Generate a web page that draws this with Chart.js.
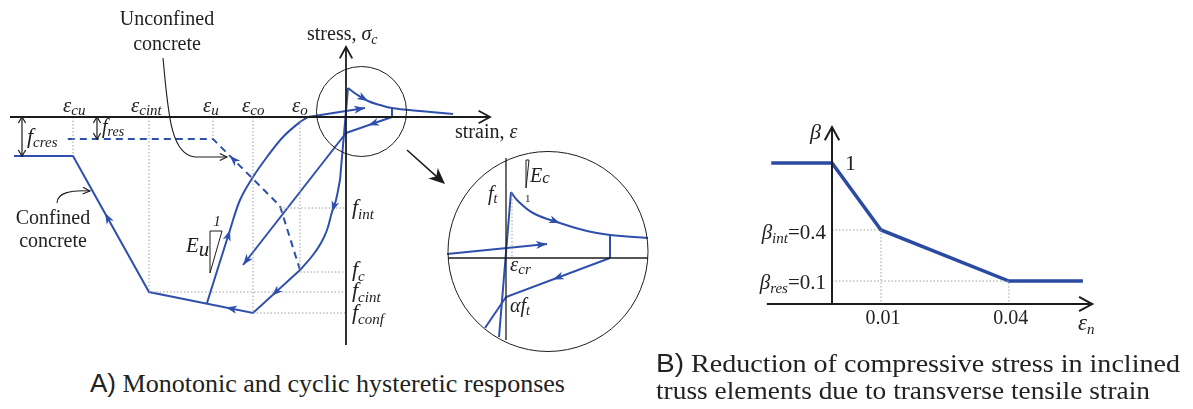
<!DOCTYPE html>
<html><head><meta charset="utf-8">
<script src="https://cdn.jsdelivr.net/npm/chart.js@4.4.1/dist/chart.umd.min.js"></script>
<style>
html,body{margin:0;padding:0;background:#fff;width:1193px;height:409px;overflow:hidden;position:relative;}
canvas{position:absolute;}
.cap{position:absolute;font-family:"Liberation Serif","Times New Roman",serif;color:#222;white-space:nowrap;font-size:26px;line-height:1;transform-origin:0 0;}
.cap .s{font-family:"Liberation Sans",Arial,sans-serif;}
</style></head><body>
<canvas id="cA" width="540" height="360" style="left:0px;top:0px"></canvas>
<canvas id="cI" width="220" height="215" style="left:440px;top:145px"></canvas>
<canvas id="cB" width="400" height="240" style="left:740px;top:110px"></canvas>
<div class="cap" data-w="475" style="left:90px;top:370px"><span class="s">A)</span> Monotonic and cyclic hysteretic responses</div>
<div class="cap" data-w="524" style="left:656px;top:350px"><span class="s">B)</span> Reduction of compressive stress in inclined</div>
<div class="cap" data-w="494" style="left:656px;top:378px">truss elements due to transverse tensile strain</div>
<script>
// ===================== DATA (diagram units) =====================
// Panel A: strain (x) / stress (y), compression negative
const strainTickNames  = ['cu', 'cint', 'u', 'co', 'o'];
const strainTickValues = [-27.3, -19.7, -13.3, -9.3, -4.6];
const strainTickDepth  = [-3.9, -17.5, -2.2, -19.6, -15.3];
const stressTickNames  = ['int', 'c', 'cint', 'conf'];
const stressTickValues = [-9.1, -15.5, -17.5, -19.6];
const stressTickStart  = [-6.6, -4.6, -19.7, -9.3];

const confinedX   = [-4.6, -9.3, -19.7, -27.3, -33.2];
const confinedY   = [-15.3, -19.6, -17.5, -3.9, -3.9];
const unconfinedX = [-4.6, -6.6, -13.3, -28.1];
const unconfinedY = [-15.3, -8.9, -2.2, -2.2];
const elasticX    = [0.2, -0.6];
const elasticY    = [2.9, -6.3];
const compCurveX  = [-0.6, -1.0, -1.4, -1.9, -2.5, -3.3, -4.6];
const compCurveY  = [-6.3, -8.3, -9.5, -11.3, -12.6, -13.8, -15.3];
const reloadX     = [-13.9, -11.6, -10.6, -9.3, -7.9, -6.3, -4.6, -3.8];
const reloadY     = [-18.6, -11.3, -8.3, -6.0, -4.0, -2.0, -0.5, 0];
const reloadTensX = [-3.8, 1.9];
const reloadTensY = [0, 0.9];
const tensSoftX   = [0.2, 1.0, 2.2, 3.4, 4.6, 7.4, 10.7];
const tensSoftY   = [2.9, 2.3, 1.6, 1.2, 0.9, 0.6, 0.3];
const crackX      = [4.6, 4.6];
const crackY      = [0.9, 0];
const unloadX     = [4.6, 0];
const unloadY     = [0, -1.6];
const diagX       = [0, -10.3];
const diagY       = [-1.6, -14.8];
const fcresValue  = -3.9;
const fresValue   = -2.2;

// Inset (zoom of tension region)
const inElasticX = [-0.7, 0.5];
const inElasticY = [-7.9, 6.6];
const inSoftX    = [0.5, 1.1, 2.7, 5.4, 8.1, 10.4, 14.2];
const inSoftY    = [6.6, 5.8, 4.5, 3.5, 2.7, 2.3, 2.0];
const inCrackX   = [10.4, 10.4];
const inCrackY   = [2.3, 0];
const inUnloadX  = [10.4, 0, -2.1];
const inUnloadY  = [0, -3.9, -7.0];
const inReloadX  = [-5.9, 4.1];
const inReloadY  = [0.4, 1.4];

// Panel B: beta vs eps_n (schematic positions as drawn: 0.01 drawn at 1, 0.04 at 3.61)
const betaX = [-1.24, 0, 1, 3.61, 5.12];
const betaY = [1, 1, 0.525, 0.163, 0.163];
const betaStrainTicks = ['0.01', '0.04'];
const betaLevelNames  = ['int', 'res'];
const betaLevelValues = ['0.4', '0.1'];

// ===================== RENDERING =====================
const SERIF = '"Liberation Serif","Times New Roman",serif';
const R = s => `${s}px ${SERIF}`;
const I = s => `italic ${s}px ${SERIF}`;
const BLUE = '#2f4fad', BLUE_B = '#2b4ba3', INK = '#1c1c1c', DOT = '#a0a0a0';

function pts(xs, ys) { return xs.map((x, i) => ({x, y: ys[i]})); }
function line(xs, ys, o = {}) {
  return Object.assign({data: pts(xs, ys), showLine: true, borderColor: BLUE, borderWidth: 2,
    pointRadius: 0, fill: false, tension: 0, borderCapStyle: 'butt', borderJoinStyle: 'miter'}, o);
}
function dotted(xs, ys) { return line(xs, ys, {borderColor: DOT, borderWidth: 1, borderDash: [1.5, 2]}); }

function fillHead(ctx, x, y, ang, len, half, color) {
  const c = Math.cos(ang), s = Math.sin(ang);
  const bx = x - len * c, by = y - len * s;
  ctx.beginPath();
  ctx.moveTo(x, y);
  ctx.lineTo(bx - half * s, by + half * c);
  ctx.lineTo(x - len * 0.72 * c, y - len * 0.72 * s);
  ctx.lineTo(bx + half * s, by - half * c);
  ctx.closePath();
  ctx.fillStyle = color; ctx.fill();
}
function openHead(ctx, x, y, ang, len, spread, color, w) {
  ctx.beginPath();
  ctx.moveTo(x - len * Math.cos(ang - spread), y - len * Math.sin(ang - spread));
  ctx.lineTo(x, y);
  ctx.lineTo(x - len * Math.cos(ang + spread), y - len * Math.sin(ang + spread));
  ctx.strokeStyle = color; ctx.lineWidth = w; ctx.stroke();
}
function drawRich(ctx, x, y, segs, align, color) {
  let w = 0;
  segs.forEach(s => { ctx.font = s[1]; w += ctx.measureText(s[0]).width; });
  let cx = align === 'center' ? x - w / 2 : align === 'right' ? x - w : x;
  ctx.fillStyle = color || '#222'; ctx.textBaseline = 'alphabetic'; ctx.textAlign = 'left';
  segs.forEach(s => { ctx.font = s[1]; ctx.fillText(s[0], cx, y + (s[2] || 0)); cx += ctx.measureText(s[0]).width; });
}

const diagramPlugin = {
  id: 'diagram',
  afterDatasetsDraw(chart) {
    const o = chart.options.plugins.diagram || {};
    const ctx = chart.ctx, sx = chart.scales.x, sy = chart.scales.y;
    const P = p => [sx.getPixelForValue(p[0]), sy.getPixelForValue(p[1])];
    ctx.save();
    chart.data.datasets.forEach(ds => {
      (ds.arrows || []).forEach(a => {
        const A = P([ds.data[a.seg].x, ds.data[a.seg].y]);
        const B = P([ds.data[a.seg + 1].x, ds.data[a.seg + 1].y]);
        const x = A[0] + (B[0] - A[0]) * a.t, y = A[1] + (B[1] - A[1]) * a.t;
        let ang = Math.atan2(B[1] - A[1], B[0] - A[0]);
        if (a.rev) ang += Math.PI;
        fillHead(ctx, x, y, ang, a.len || 11, a.half || 4, ds.borderColor);
      });
    });
    (o.items || []).forEach(it => {
      ctx.setLineDash([]);
      if (it.type === 'text') {
        const p = P(it.at);
        drawRich(ctx, p[0], p[1], it.segs, it.align || 'left', it.color);
      } else if (it.type === 'axis') {
        const a = P(it.from), b = P(it.to);
        ctx.beginPath(); ctx.moveTo(a[0], a[1]); ctx.lineTo(b[0], b[1]);
        ctx.strokeStyle = INK; ctx.lineWidth = it.w || 1.8; ctx.stroke();
        if (it.head !== false) openHead(ctx, b[0], b[1], Math.atan2(b[1] - a[1], b[0] - a[0]), it.hl || 13, 0.5, INK, it.w || 1.8);
      } else if (it.type === 'poly') {
        ctx.beginPath();
        it.pts.forEach((q, i) => { const p = P(q); i ? ctx.lineTo(p[0], p[1]) : ctx.moveTo(p[0], p[1]); });
        if (it.closed) ctx.closePath();
        ctx.strokeStyle = it.color || INK; ctx.lineWidth = it.w || 1; ctx.stroke();
      } else if (it.type === 'circle') {
        const p = P(it.c);
        ctx.beginPath(); ctx.arc(p[0], p[1], it.r, 0, Math.PI * 2);
        ctx.strokeStyle = INK; ctx.lineWidth = it.w || 1; ctx.stroke();
      } else if (it.type === 'fat') {
        const a = P(it.from), b = P(it.to);
        const ang = Math.atan2(b[1] - a[1], b[0] - a[0]);
        ctx.beginPath(); ctx.moveTo(a[0], a[1]);
        ctx.lineTo(b[0] - 10 * Math.cos(ang), b[1] - 10 * Math.sin(ang));
        ctx.strokeStyle = INK; ctx.lineWidth = 1.6; ctx.stroke();
        fillHead(ctx, b[0], b[1], ang, 16, 7, INK);
      } else if (it.type === 'dim') {
        const a = P([it.x, it.y1]), b = P([it.x, it.y2]);
        ctx.beginPath(); ctx.moveTo(a[0], a[1]); ctx.lineTo(b[0], b[1]);
        ctx.strokeStyle = INK; ctx.lineWidth = 1.2; ctx.stroke();
        openHead(ctx, a[0], a[1], -Math.PI / 2, 7, 0.55, INK, 1.2);
        openHead(ctx, b[0], b[1], Math.PI / 2, 7, 0.55, INK, 1.2);
      } else if (it.type === 'curve') {
        const a = P(it.from), c1 = P(it.c1), c2 = P(it.c2), b = P(it.to);
        ctx.beginPath(); ctx.moveTo(a[0], a[1]);
        ctx.bezierCurveTo(c1[0], c1[1], c2[0], c2[1], b[0], b[1]);
        let ang = Math.atan2(b[1] - c2[1], b[0] - c2[0]);
        let end = b;
        if (it.then) { const t = P(it.then); ctx.lineTo(t[0], t[1]); ang = Math.atan2(t[1] - b[1], t[0] - b[0]); end = t; }
        ctx.strokeStyle = INK; ctx.lineWidth = 1.1; ctx.stroke();
        openHead(ctx, end[0], end[1], ang, 8, 0.45, INK, 1.1);
      }
    });
    ctx.restore();
  }
};

function makeChart(id, xr, yr, datasets, items) {
  return new Chart(document.getElementById(id), {
    type: 'scatter',
    data: {datasets},
    options: {
      responsive: false, animation: false, events: [],
      layout: {padding: 0},
      plugins: {legend: {display: false}, tooltip: {enabled: false}, diagram: {items}},
      scales: {
        x: {type: 'linear', min: xr[0], max: xr[1], display: false},
        y: {type: 'linear', min: yr[0], max: yr[1], display: false}
      }
    },
    plugins: [diagramPlugin]
  });
}

// ---------- Panel A ----------
const dsA = [];
strainTickValues.forEach((v, i) => dsA.push(dotted([v, v], [0, strainTickDepth[i]])));
stressTickValues.forEach((v, i) => dsA.push(dotted([stressTickStart[i], 0], [v, v])));
dsA.push(line(unconfinedX, unconfinedY, {borderDash: [7, 5], arrows: [{seg: 1, t: 0.75}]}));
dsA.push(line(confinedX, confinedY, {arrows: [{seg: 0, t: 0.6}, {seg: 1, t: 0.26}, {seg: 2, t: 0.58}]}));
dsA.push(line(elasticX, elasticY));
dsA.push(line(compCurveX, compCurveY, {tension: 0.4, arrows: [{seg: 1, t: 1}]}));
dsA.push(line(reloadX, reloadY, {tension: 0.35, arrows: [{seg: 0, t: 1}]}));
dsA.push(line(reloadTensX, reloadTensY, {arrows: [{seg: 0, t: 1}]}));
dsA.push(line(tensSoftX, tensSoftY, {tension: 0.4, arrows: [{seg: 1, t: 1}]}));
dsA.push(line(crackX, crackY));
dsA.push(line(unloadX, unloadY, {arrows: [{seg: 0, t: 0.52}]}));
dsA.push(line(diagX, diagY, {arrows: [{seg: 0, t: 1}]}));

const strainLabelLeft = [-28.3, -21.5, -14.3, -10.4, -5.4];
const stressLabelBase = [-9.7, -15.9, -18.0, -20.2];
const itemsA = [
  {type: 'axis', from: [-33.6, 0], to: [14.4, 0]},
  {type: 'axis', from: [0, -22.8], to: [0, 7.0]},
  {type: 'circle', c: [1.55, 0.55], r: 45},
  {type: 'fat', from: [6.1, -3.3], to: [9.9, -6.7]},
  {type: 'dim', x: -32.4, y1: 0, y2: fcresValue},
  {type: 'dim', x: -24.9, y1: 0, y2: fresValue},
  {type: 'poly', pts: [[-13.6, -11.4], [-12.4, -11.4], [-13.6, -15.6]], closed: true},
  {type: 'curve', from: [-18.3, 5.9], c1: [-17.8, 0.7], c2: [-17.6, -3.8], to: [-15.1, -4.0], then: [-11.9, -4.0]},
  {type: 'curve', from: [-28.9, -8.6], c1: [-28.9, -7.6], c2: [-27.6, -7.3], to: [-25.6, -7.4]},
  {type: 'text', at: [-17.9, 9.2], align: 'center', segs: [['Unconfined', R(20)]]},
  {type: 'text', at: [-17.9, 6.7], align: 'center', segs: [['concrete', R(20)]]},
  {type: 'text', at: [-29.3, -10.7], align: 'center', segs: [['Confined', R(20)]]},
  {type: 'text', at: [-29.3, -13.0], align: 'center', segs: [['concrete', R(20)]]},
  {type: 'text', at: [-3.9, 7.7], segs: [['stress, ', R(20)], ['σ', I(20)], ['c', I(14), 4]]},
  {type: 'text', at: [10.9, -2.1], segs: [['strain, ', R(20)], ['ε', I(20)]]},
  {type: 'text', at: [-31.9, -2.6], segs: [['f', I(22)], ['cres', I(15), 4]]},
  {type: 'text', at: [-24.4, -1.6], segs: [['f', I(20)], ['res', I(14), 3]]},
  {type: 'text', at: [-16.0, -13.5], segs: [['E', I(21)], ['u', I(21), 4]]},
  {type: 'text', at: [-12.9, -10.9], align: 'center', segs: [['1', I(15)]]}
];
strainTickNames.forEach((n, i) => itemsA.push({type: 'text', at: [strainLabelLeft[i], 0.5], segs: [['ε', I(21)], [n, I(15), 3]]}));
stressTickNames.forEach((n, i) => itemsA.push({type: 'text', at: [0.6, stressLabelBase[i]], segs: [['f', I(22)], [n, I(15), 5]]}));
makeChart('cA', [-34.6, 19.4], [-24.3, 11.7], dsA, itemsA);

// ---------- Inset ----------
const dsI = [
  dotted([0.6, 0.6], [6.6, 0]),
  line(inElasticX, inElasticY),
  line(inSoftX, inSoftY, {tension: 0.4, arrows: [{seg: 2, t: 1}]}),
  line(inCrackX, inCrackY),
  line(inUnloadX, inUnloadY, {arrows: [{seg: 0, t: 0.55}]}),
  line(inReloadX, inReloadY, {arrows: [{seg: 0, t: 1}]})
];
const itemsI = [
  {type: 'axis', from: [-5.8, 0], to: [14.2, 0], head: false, w: 1.3},
  {type: 'axis', from: [0, 10.0], to: [0, -8.2], head: false, w: 1.3},
  {type: 'circle', c: [4.2, 0.65], r: 100},
  {type: 'poly', pts: [[2.0, 9.8], [2.3, 9.8], [2.0, 7.0]], closed: true},
  {type: 'text', at: [-1.8, 5.8], segs: [['f', I(20)], ['t', I(14), 3]]},
  {type: 'text', at: [2.4, 7.6], segs: [['E', I(20)], ['c', I(17), 1]]},
  {type: 'text', at: [1.9, 5.6], segs: [['1', R(11)]]},
  {type: 'text', at: [0.4, -1.3], segs: [['ε', I(21)], ['cr', I(15), 3]]},
  {type: 'text', at: [0.4, -5.4], segs: [['α', I(20)], ['f', I(20)], ['t', I(14), 3]]}
];
makeChart('cI', [-6.6, 15.4], [-10.2, 11.3], dsI, itemsI);

// ---------- Panel B ----------
const dsB = [
  dotted([0, betaX[2], betaX[2]], [betaY[2], betaY[2], 0]),
  dotted([0, betaX[3], betaX[3]], [betaY[3], betaY[3], 0]),
  line(betaX, betaY, {borderColor: BLUE_B, borderWidth: 3.5})
];
const itemsB = [
  {type: 'axis', from: [-1.33, 0], to: [5.31, 0], w: 2, hl: 15},
  {type: 'axis', from: [0, 0], to: [0, 1.255], w: 2, hl: 15},
  {type: 'text', at: [-0.449, 1.17], segs: [['β', I(22)]]},
  {type: 'text', at: [0.265, 0.95], segs: [['1', R(22)]]},
  {type: 'text', at: [-0.122, 0.461], align: 'right', segs: [['β', I(21)], [betaLevelNames[0], I(15), 4], ['=' + betaLevelValues[0], R(21)]]},
  {type: 'text', at: [-0.122, 0.106], align: 'right', segs: [['β', I(21)], [betaLevelNames[1], I(15), 4], ['=' + betaLevelValues[1], R(21)]]},
  {type: 'text', at: [betaX[2] + 0.04, -0.142], align: 'center', segs: [[betaStrainTicks[0], R(20)]]},
  {type: 'text', at: [betaX[3] + 0.04, -0.142], align: 'center', segs: [[betaStrainTicks[1], R(20)]]},
  {type: 'text', at: [5.02, -0.184], segs: [['ε', I(23)], ['n', I(15), 4]]}
];
makeChart('cB', [-1.8776, 6.2857], [-0.3262, 1.3759], dsB, itemsB);

// captions: fit to measured widths
document.querySelectorAll('.cap').forEach(el => {
  const w = el.getBoundingClientRect().width;
  const target = +el.dataset.w;
  el.style.transform = `scaleX(${(target / w).toFixed(4)})`;
});
</script>
</body></html>
